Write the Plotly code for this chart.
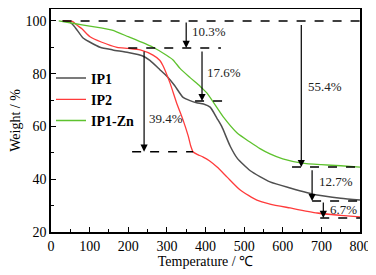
import plotly.graph_objects as go

# ---- data ----
ip1_t = [30, 45, 60, 83, 100, 127, 160, 200, 236, 256, 282, 300, 320, 342, 360, 377, 395, 412, 430, 442, 464, 482, 516, 567, 619, 689, 750, 800]
ip1_w = [100, 99.8, 98, 93.5, 92, 90, 89, 88, 86.8, 85, 81.5, 79, 75.5, 71, 69.8, 69, 68.5, 67.3, 63, 60, 52.5, 48, 43.2, 39, 36.7, 34, 32.8, 32.1]

ip2_t = [30, 55, 67, 80, 101, 130, 171, 200, 231, 264, 282, 290, 308, 325, 342, 355, 362, 368, 380, 394, 410, 430, 456, 490, 533, 567, 619, 689, 750, 800]
ip2_w = [100, 99.8, 98.4, 97, 94, 92, 90, 89.6, 89, 87, 85, 83, 76.5, 69, 62.4, 56.5, 52.5, 50.3, 49.3, 48.4, 47, 44.6, 40.8, 35.9, 32.1, 30.6, 29.1, 27.2, 26.3, 25.7]

zn_t = [20, 60, 100, 158, 200, 264, 300, 316, 334, 360, 386, 404, 446, 482, 516, 541, 567, 600, 650, 700, 750, 800]
zn_w = [100, 99, 98, 96.5, 94, 90, 86.9, 85.2, 82, 78.5, 75.2, 72.6, 63.6, 57.5, 54, 51.6, 49.6, 47.7, 46.1, 45.5, 45.1, 44.6]

# dashed reference levels: (t_start, t_end, level)
guide_t0 = [30, 200, 373, 210, 624, 676, 697]
guide_t1 = [800, 440, 443, 368, 800, 800, 800]
guide_w = [100, 89.7, 69.6, 50.4, 44.6, 31.7, 25.3]

# arrows: temperature, from level, to level, label
arrow_t = [350, 391, 241, 648, 676, 705]
arrow_from = [100, 89.0, 89.0, 99.0, 44.0, 31.7]
arrow_to = [89.7, 69.6, 50.4, 44.6, 31.7, 25.3]
arrow_lbl = ["10.3%", "17.6%", "39.4%", "55.4%", "12.7%", "6.7%"]
lbl_t = [360, 399, 249, 660, 689, 718]
lbl_w = [95.8, 80.3, 63, 75, 39.3, 28.7]

FONT = "Liberation Serif, Times New Roman, serif"

fig = go.Figure()
fig.add_trace(go.Scatter(x=ip1_t, y=ip1_w, mode="lines", name="IP1",
                         line=dict(color="#4f4f4f", width=1.5, shape="spline", smoothing=0.6)))
fig.add_trace(go.Scatter(x=ip2_t, y=ip2_w, mode="lines", name="IP2",
                         line=dict(color="#ff3b3b", width=1.3, shape="spline", smoothing=0.6)))
fig.add_trace(go.Scatter(x=zn_t, y=zn_w, mode="lines", name="IP1-Zn",
                         line=dict(color="#5ec22e", width=1.3, shape="spline", smoothing=0.6)))

for a, b, w in zip(guide_t0, guide_t1, guide_w):
    fig.add_shape(type="line", x0=a, x1=b, y0=w, y1=w, xref="x", yref="y",
                  line=dict(color="black", width=1.5, dash="dash"))

for t, f, to, lab, lt, lw in zip(arrow_t, arrow_from, arrow_to, arrow_lbl, lbl_t, lbl_w):
    fig.add_annotation(x=t, y=to, ax=t, ay=f, xref="x", yref="y", axref="x", ayref="y",
                       showarrow=True, arrowhead=2, arrowsize=1.2, arrowwidth=1.2,
                       arrowcolor="black", text="")
    fig.add_annotation(x=lt, y=lw, xref="x", yref="y", text=lab, showarrow=False,
                       xanchor="left", yanchor="middle",
                       font=dict(family=FONT, size=13, color="#222"))

# page body has an 8px default margin, so the figure is made 8px smaller
fig.update_layout(
    width=368, height=267,
    margin=dict(l=43, r=16, t=1, b=43),
    paper_bgcolor="white", plot_bgcolor="white",
    font=dict(family=FONT, size=14, color="black"),
    showlegend=True,
    legend=dict(x=0.0, y=0.76, xanchor="left", yanchor="top",
                bgcolor="rgba(0,0,0,0)", tracegroupgap=0,
                font=dict(family=FONT, size=14, color="black", weight="bold"),
                itemwidth=30),
)
fig.update_xaxes(range=[0, 800], tickvals=[0, 100, 200, 300, 400, 500, 600, 700, 800],
                 ticks="inside", ticklen=5, tickwidth=1.2, tickcolor="black",
                 minor=dict(dtick=50, ticks="inside", ticklen=3, tickcolor="black"),
                 showline=True, linecolor="black", linewidth=1.5, mirror=True,
                 showgrid=False, zeroline=False, automargin=False,
                 title=dict(text="Temperature / ℃", standoff=2, font=dict(size=14)))
fig.update_yaxes(range=[20, 104.5], tickvals=[20, 40, 60, 80, 100],
                 ticks="inside", ticklen=5, tickwidth=1.2, tickcolor="black",
                 minor=dict(tickvals=[30, 50, 70, 90], ticks="inside", ticklen=3, tickcolor="black"),
                 showline=True, linecolor="black", linewidth=1.5, mirror=True,
                 showgrid=False, zeroline=False, automargin=False,
                 title=dict(text="Weight / %", standoff=6, font=dict(size=14)))

fig.write_html("out.html")
